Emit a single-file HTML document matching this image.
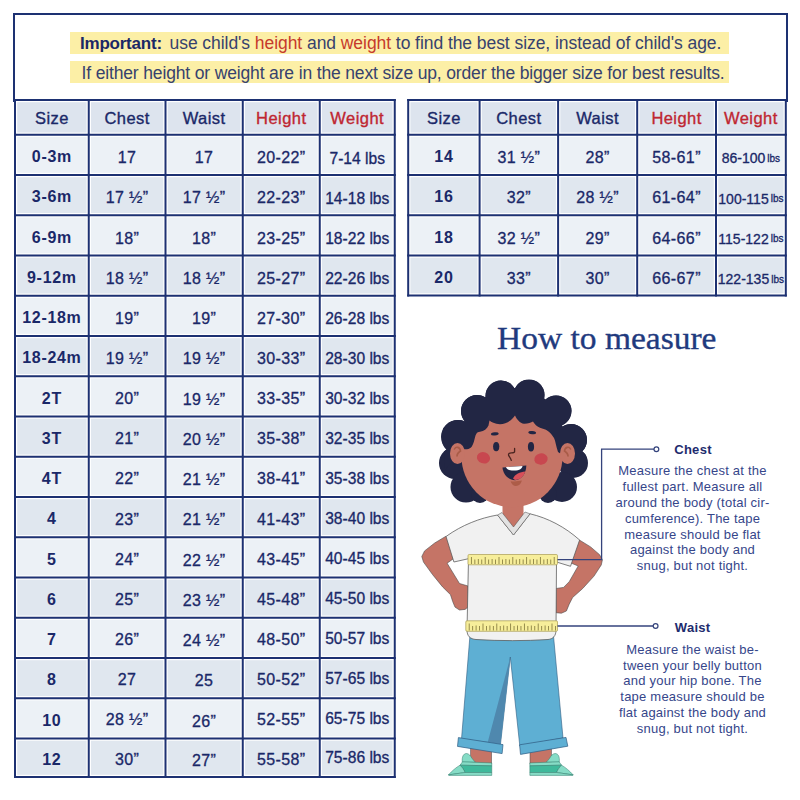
<!DOCTYPE html>
<html><head><meta charset="utf-8"><style>
html,body{margin:0;padding:0;}
body{width:800px;height:800px;position:relative;overflow:hidden;background:#fff;font-family:"Liberation Sans",sans-serif;}
.abs{position:absolute;}
.c{position:absolute;display:flex;align-items:center;justify-content:center;box-sizing:border-box;padding-top:3px;white-space:nowrap;color:#1a2868;}
.h{font-size:16.5px;letter-spacing:0.45px;-webkit-text-stroke:0.35px #1a2868;padding-top:2px;}
.h.red{color:#bf2631;-webkit-text-stroke:0.35px #bf2631;}
.s{font-size:16px;font-weight:bold;letter-spacing:0.7px;padding-top:5px;}
.v{font-size:16px;letter-spacing:0.4px;-webkit-text-stroke:0.3px #1a2868;padding-top:5.6px;}
.w{font-size:15.6px;letter-spacing:0px;-webkit-text-stroke:0.3px #1a2868;}
.wn{font-size:14px;letter-spacing:0px;}
.lbs{font-size:10px;margin-left:2px;letter-spacing:0;}
#hbox{position:absolute;left:13px;top:13px;width:770.5px;height:86.5px;border:2px solid #1d3172;border-bottom:none;box-sizing:content-box;}
.hl{position:absolute;background:#fcefa6;}
.ln{position:absolute;white-space:nowrap;font-size:17px;color:#37426e;}
.imp{font-weight:bold;color:#1a2866;letter-spacing:-0.22px;font-size:17px;}
.rd{color:#c63a2c;}
#htm{position:absolute;left:496.6px;top:319px;font-family:"Liberation Serif",serif;font-size:31.5px;color:#1f3a7e;white-space:nowrap;line-height:40px;transform:scaleX(1.063);transform-origin:0 0;-webkit-text-stroke:0.35px #1f3a7e;}
.ttl{position:absolute;font-weight:bold;font-size:13px;color:#1e2c6e;white-space:nowrap;}
.pl{position:absolute;left:592.5px;width:200px;text-align:center;font-size:13px;line-height:16px;color:#36468a;letter-spacing:0.22px;white-space:nowrap;}
.ttl{line-height:16px;letter-spacing:0.3px;}
</style></head><body>
<div id="hbox"></div>
<div class="hl" style="left:70px;top:32px;width:659px;height:21.5px"></div>
<div class="hl" style="left:69.5px;top:60.5px;width:659.5px;height:22.5px"></div>
<div class="ln" style="left:80px;top:33px;line-height:20px;font-size:17.5px"><span class="imp">Important:</span> <span style="letter-spacing:-0.06px;padding-left:2.8px">use child's <span class="rd">height</span> and <span class="rd">weight</span> to find the best size, instead of child's age.</span></div>
<div class="ln" style="left:81.5px;top:62.5px;line-height:20px;font-size:17.5px;letter-spacing:-0.15px">If either height or weight are in the next size up, order the bigger size for best results.</div>
<svg class="abs" style="left:0;top:0" width="800" height="800" viewBox="0 0 800 800">
<rect x="17.20" y="102.20" width="69.35" height="30.35" fill="#dde4ee"/><rect x="90.95" y="102.20" width="72.35" height="30.35" fill="#dde4ee"/><rect x="167.70" y="102.20" width="72.85" height="30.35" fill="#dde4ee"/><rect x="244.95" y="102.20" width="72.60" height="30.35" fill="#dde4ee"/><rect x="321.95" y="102.20" width="70.60" height="30.35" fill="#dde4ee"/><rect x="17.20" y="136.95" width="69.35" height="35.85" fill="#ecf1f6"/><rect x="90.95" y="136.95" width="72.35" height="35.85" fill="#ecf1f6"/><rect x="167.70" y="136.95" width="72.85" height="35.85" fill="#ecf1f6"/><rect x="244.95" y="136.95" width="72.60" height="35.85" fill="#ecf1f6"/><rect x="321.95" y="136.95" width="70.60" height="35.85" fill="#ecf1f6"/><rect x="17.20" y="177.20" width="69.35" height="35.85" fill="#e0e7ef"/><rect x="90.95" y="177.20" width="72.35" height="35.85" fill="#e0e7ef"/><rect x="167.70" y="177.20" width="72.85" height="35.85" fill="#e0e7ef"/><rect x="244.95" y="177.20" width="72.60" height="35.85" fill="#e0e7ef"/><rect x="321.95" y="177.20" width="70.60" height="35.85" fill="#e0e7ef"/><rect x="17.20" y="217.45" width="69.35" height="35.85" fill="#ecf1f6"/><rect x="90.95" y="217.45" width="72.35" height="35.85" fill="#ecf1f6"/><rect x="167.70" y="217.45" width="72.85" height="35.85" fill="#ecf1f6"/><rect x="244.95" y="217.45" width="72.60" height="35.85" fill="#ecf1f6"/><rect x="321.95" y="217.45" width="70.60" height="35.85" fill="#ecf1f6"/><rect x="17.20" y="257.70" width="69.35" height="35.85" fill="#e0e7ef"/><rect x="90.95" y="257.70" width="72.35" height="35.85" fill="#e0e7ef"/><rect x="167.70" y="257.70" width="72.85" height="35.85" fill="#e0e7ef"/><rect x="244.95" y="257.70" width="72.60" height="35.85" fill="#e0e7ef"/><rect x="321.95" y="257.70" width="70.60" height="35.85" fill="#e0e7ef"/><rect x="17.20" y="297.95" width="69.35" height="35.85" fill="#ecf1f6"/><rect x="90.95" y="297.95" width="72.35" height="35.85" fill="#ecf1f6"/><rect x="167.70" y="297.95" width="72.85" height="35.85" fill="#ecf1f6"/><rect x="244.95" y="297.95" width="72.60" height="35.85" fill="#ecf1f6"/><rect x="321.95" y="297.95" width="70.60" height="35.85" fill="#ecf1f6"/><rect x="17.20" y="338.20" width="69.35" height="35.85" fill="#e0e7ef"/><rect x="90.95" y="338.20" width="72.35" height="35.85" fill="#e0e7ef"/><rect x="167.70" y="338.20" width="72.85" height="35.85" fill="#e0e7ef"/><rect x="244.95" y="338.20" width="72.60" height="35.85" fill="#e0e7ef"/><rect x="321.95" y="338.20" width="70.60" height="35.85" fill="#e0e7ef"/><rect x="17.20" y="378.45" width="69.35" height="35.85" fill="#ecf1f6"/><rect x="90.95" y="378.45" width="72.35" height="35.85" fill="#ecf1f6"/><rect x="167.70" y="378.45" width="72.85" height="35.85" fill="#ecf1f6"/><rect x="244.95" y="378.45" width="72.60" height="35.85" fill="#ecf1f6"/><rect x="321.95" y="378.45" width="70.60" height="35.85" fill="#ecf1f6"/><rect x="17.20" y="418.70" width="69.35" height="35.85" fill="#e0e7ef"/><rect x="90.95" y="418.70" width="72.35" height="35.85" fill="#e0e7ef"/><rect x="167.70" y="418.70" width="72.85" height="35.85" fill="#e0e7ef"/><rect x="244.95" y="418.70" width="72.60" height="35.85" fill="#e0e7ef"/><rect x="321.95" y="418.70" width="70.60" height="35.85" fill="#e0e7ef"/><rect x="17.20" y="458.95" width="69.35" height="35.85" fill="#ecf1f6"/><rect x="90.95" y="458.95" width="72.35" height="35.85" fill="#ecf1f6"/><rect x="167.70" y="458.95" width="72.85" height="35.85" fill="#ecf1f6"/><rect x="244.95" y="458.95" width="72.60" height="35.85" fill="#ecf1f6"/><rect x="321.95" y="458.95" width="70.60" height="35.85" fill="#ecf1f6"/><rect x="17.20" y="499.20" width="69.35" height="35.85" fill="#e0e7ef"/><rect x="90.95" y="499.20" width="72.35" height="35.85" fill="#e0e7ef"/><rect x="167.70" y="499.20" width="72.85" height="35.85" fill="#e0e7ef"/><rect x="244.95" y="499.20" width="72.60" height="35.85" fill="#e0e7ef"/><rect x="321.95" y="499.20" width="70.60" height="35.85" fill="#e0e7ef"/><rect x="17.20" y="539.45" width="69.35" height="35.85" fill="#ecf1f6"/><rect x="90.95" y="539.45" width="72.35" height="35.85" fill="#ecf1f6"/><rect x="167.70" y="539.45" width="72.85" height="35.85" fill="#ecf1f6"/><rect x="244.95" y="539.45" width="72.60" height="35.85" fill="#ecf1f6"/><rect x="321.95" y="539.45" width="70.60" height="35.85" fill="#ecf1f6"/><rect x="17.20" y="579.70" width="69.35" height="35.85" fill="#e0e7ef"/><rect x="90.95" y="579.70" width="72.35" height="35.85" fill="#e0e7ef"/><rect x="167.70" y="579.70" width="72.85" height="35.85" fill="#e0e7ef"/><rect x="244.95" y="579.70" width="72.60" height="35.85" fill="#e0e7ef"/><rect x="321.95" y="579.70" width="70.60" height="35.85" fill="#e0e7ef"/><rect x="17.20" y="619.95" width="69.35" height="35.85" fill="#ecf1f6"/><rect x="90.95" y="619.95" width="72.35" height="35.85" fill="#ecf1f6"/><rect x="167.70" y="619.95" width="72.85" height="35.85" fill="#ecf1f6"/><rect x="244.95" y="619.95" width="72.60" height="35.85" fill="#ecf1f6"/><rect x="321.95" y="619.95" width="70.60" height="35.85" fill="#ecf1f6"/><rect x="17.20" y="660.20" width="69.35" height="35.85" fill="#e0e7ef"/><rect x="90.95" y="660.20" width="72.35" height="35.85" fill="#e0e7ef"/><rect x="167.70" y="660.20" width="72.85" height="35.85" fill="#e0e7ef"/><rect x="244.95" y="660.20" width="72.60" height="35.85" fill="#e0e7ef"/><rect x="321.95" y="660.20" width="70.60" height="35.85" fill="#e0e7ef"/><rect x="17.20" y="700.45" width="69.35" height="35.85" fill="#ecf1f6"/><rect x="90.95" y="700.45" width="72.35" height="35.85" fill="#ecf1f6"/><rect x="167.70" y="700.45" width="72.85" height="35.85" fill="#ecf1f6"/><rect x="244.95" y="700.45" width="72.60" height="35.85" fill="#ecf1f6"/><rect x="321.95" y="700.45" width="70.60" height="35.85" fill="#ecf1f6"/><rect x="17.20" y="740.70" width="69.35" height="34.10" fill="#e0e7ef"/><rect x="90.95" y="740.70" width="72.35" height="34.10" fill="#e0e7ef"/><rect x="167.70" y="740.70" width="72.85" height="34.10" fill="#e0e7ef"/><rect x="244.95" y="740.70" width="72.60" height="34.10" fill="#e0e7ef"/><rect x="321.95" y="740.70" width="70.60" height="34.10" fill="#e0e7ef"/><rect x="14.00" y="99.00" width="2" height="679.00" fill="#1d3172"/><rect x="87.75" y="99.00" width="2" height="679.00" fill="#1d3172"/><rect x="164.50" y="99.00" width="2" height="679.00" fill="#1d3172"/><rect x="241.75" y="99.00" width="2" height="679.00" fill="#1d3172"/><rect x="318.75" y="99.00" width="2" height="679.00" fill="#1d3172"/><rect x="393.75" y="99.00" width="2" height="679.00" fill="#1d3172"/><rect x="14.00" y="99.00" width="381.75" height="2" fill="#1d3172"/><rect x="14.00" y="133.75" width="381.75" height="2" fill="#1d3172"/><rect x="14.00" y="174.00" width="381.75" height="2" fill="#1d3172"/><rect x="14.00" y="214.25" width="381.75" height="2" fill="#1d3172"/><rect x="14.00" y="254.50" width="381.75" height="2" fill="#1d3172"/><rect x="14.00" y="294.75" width="381.75" height="2" fill="#1d3172"/><rect x="14.00" y="335.00" width="381.75" height="2" fill="#1d3172"/><rect x="14.00" y="375.25" width="381.75" height="2" fill="#1d3172"/><rect x="14.00" y="415.50" width="381.75" height="2" fill="#1d3172"/><rect x="14.00" y="455.75" width="381.75" height="2" fill="#1d3172"/><rect x="14.00" y="496.00" width="381.75" height="2" fill="#1d3172"/><rect x="14.00" y="536.25" width="381.75" height="2" fill="#1d3172"/><rect x="14.00" y="576.50" width="381.75" height="2" fill="#1d3172"/><rect x="14.00" y="616.75" width="381.75" height="2" fill="#1d3172"/><rect x="14.00" y="657.00" width="381.75" height="2" fill="#1d3172"/><rect x="14.00" y="697.25" width="381.75" height="2" fill="#1d3172"/><rect x="14.00" y="737.50" width="381.75" height="2" fill="#1d3172"/><rect x="14.00" y="776.00" width="381.75" height="2" fill="#1d3172"/><rect x="410.40" y="102.20" width="67.00" height="30.35" fill="#dde4ee"/><rect x="481.80" y="102.20" width="74.10" height="30.35" fill="#dde4ee"/><rect x="560.30" y="102.20" width="74.70" height="30.35" fill="#dde4ee"/><rect x="639.40" y="102.20" width="74.40" height="30.35" fill="#dde4ee"/><rect x="718.20" y="102.20" width="65.40" height="30.35" fill="#dde4ee"/><rect x="410.40" y="136.95" width="67.00" height="35.85" fill="#ecf1f6"/><rect x="481.80" y="136.95" width="74.10" height="35.85" fill="#ecf1f6"/><rect x="560.30" y="136.95" width="74.70" height="35.85" fill="#ecf1f6"/><rect x="639.40" y="136.95" width="74.40" height="35.85" fill="#ecf1f6"/><rect x="718.20" y="136.95" width="65.40" height="35.85" fill="#ecf1f6"/><rect x="410.40" y="177.20" width="67.00" height="35.85" fill="#e0e7ef"/><rect x="481.80" y="177.20" width="74.10" height="35.85" fill="#e0e7ef"/><rect x="560.30" y="177.20" width="74.70" height="35.85" fill="#e0e7ef"/><rect x="639.40" y="177.20" width="74.40" height="35.85" fill="#e0e7ef"/><rect x="718.20" y="177.20" width="65.40" height="35.85" fill="#e0e7ef"/><rect x="410.40" y="217.45" width="67.00" height="35.85" fill="#ecf1f6"/><rect x="481.80" y="217.45" width="74.10" height="35.85" fill="#ecf1f6"/><rect x="560.30" y="217.45" width="74.70" height="35.85" fill="#ecf1f6"/><rect x="639.40" y="217.45" width="74.40" height="35.85" fill="#ecf1f6"/><rect x="718.20" y="217.45" width="65.40" height="35.85" fill="#ecf1f6"/><rect x="410.40" y="257.70" width="67.00" height="35.60" fill="#e0e7ef"/><rect x="481.80" y="257.70" width="74.10" height="35.60" fill="#e0e7ef"/><rect x="560.30" y="257.70" width="74.70" height="35.60" fill="#e0e7ef"/><rect x="639.40" y="257.70" width="74.40" height="35.60" fill="#e0e7ef"/><rect x="718.20" y="257.70" width="65.40" height="35.60" fill="#e0e7ef"/><rect x="407.20" y="99.00" width="2" height="197.50" fill="#1d3172"/><rect x="478.60" y="99.00" width="2" height="197.50" fill="#1d3172"/><rect x="557.10" y="99.00" width="2" height="197.50" fill="#1d3172"/><rect x="636.20" y="99.00" width="2" height="197.50" fill="#1d3172"/><rect x="715.00" y="99.00" width="2" height="197.50" fill="#1d3172"/><rect x="784.80" y="99.00" width="2" height="197.50" fill="#1d3172"/><rect x="407.20" y="99.00" width="379.60" height="2" fill="#1d3172"/><rect x="407.20" y="133.75" width="379.60" height="2" fill="#1d3172"/><rect x="407.20" y="174.00" width="379.60" height="2" fill="#1d3172"/><rect x="407.20" y="214.25" width="379.60" height="2" fill="#1d3172"/><rect x="407.20" y="254.50" width="379.60" height="2" fill="#1d3172"/><rect x="407.20" y="294.50" width="379.60" height="2" fill="#1d3172"/>
</svg>
<div class="c h" style="left:15.00px;top:100.00px;width:73.75px;height:34.75px">Size</div><div class="c h" style="left:88.75px;top:100.00px;width:76.75px;height:34.75px">Chest</div><div class="c h" style="left:165.50px;top:100.00px;width:77.25px;height:34.75px">Waist</div><div class="c h red" style="left:242.75px;top:100.00px;width:77.00px;height:34.75px">Height</div><div class="c h red" style="left:319.75px;top:100.00px;width:75.00px;height:34.75px">Weight</div><div class="c s" style="left:15.00px;top:134.75px;width:73.75px;height:40.25px;padding-top:4.40px">0-3m</div><div class="c v" style="left:88.75px;top:134.75px;width:76.75px;height:40.25px;padding-top:6.60px">17</div><div class="c v" style="left:165.50px;top:134.75px;width:77.25px;height:40.25px;padding-top:6.40px">17</div><div class="c v" style="left:242.75px;top:134.75px;width:77.00px;height:40.25px;padding-top:6.60px">20-22”</div><div class="c w" style="left:319.75px;top:134.75px;width:75.00px;height:40.25px;padding-top:7.80px">7-14 lbs</div><div class="c s" style="left:15.00px;top:175.00px;width:73.75px;height:40.25px;padding-top:4.40px">3-6m</div><div class="c v" style="left:88.75px;top:175.00px;width:76.75px;height:40.25px;padding-top:6.43px">17 ½”</div><div class="c v" style="left:165.50px;top:175.00px;width:77.25px;height:40.25px;padding-top:6.40px">17 ½”</div><div class="c v" style="left:242.75px;top:175.00px;width:77.00px;height:40.25px;padding-top:6.43px">22-23”</div><div class="c w" style="left:319.75px;top:175.00px;width:75.00px;height:40.25px;padding-top:7.32px">14-18 lbs</div><div class="c s" style="left:15.00px;top:215.25px;width:73.75px;height:40.25px;padding-top:4.40px">6-9m</div><div class="c v" style="left:88.75px;top:215.25px;width:76.75px;height:40.25px;padding-top:6.26px">18”</div><div class="c v" style="left:165.50px;top:215.25px;width:77.25px;height:40.25px;padding-top:6.40px">18”</div><div class="c v" style="left:242.75px;top:215.25px;width:77.00px;height:40.25px;padding-top:6.26px">23-25”</div><div class="c w" style="left:319.75px;top:215.25px;width:75.00px;height:40.25px;padding-top:6.84px">18-22 lbs</div><div class="c s" style="left:15.00px;top:255.50px;width:73.75px;height:40.25px;padding-top:4.40px">9-12m</div><div class="c v" style="left:88.75px;top:255.50px;width:76.75px;height:40.25px;padding-top:6.09px">18 ½”</div><div class="c v" style="left:165.50px;top:255.50px;width:77.25px;height:40.25px;padding-top:6.40px">18 ½”</div><div class="c v" style="left:242.75px;top:255.50px;width:77.00px;height:40.25px;padding-top:6.09px">25-27”</div><div class="c w" style="left:319.75px;top:255.50px;width:75.00px;height:40.25px;padding-top:6.36px">22-26 lbs</div><div class="c s" style="left:15.00px;top:295.75px;width:73.75px;height:40.25px;padding-top:4.40px">12-18m</div><div class="c v" style="left:88.75px;top:295.75px;width:76.75px;height:40.25px;padding-top:5.92px">19”</div><div class="c v" style="left:165.50px;top:295.75px;width:77.25px;height:40.25px;padding-top:6.40px">19”</div><div class="c v" style="left:242.75px;top:295.75px;width:77.00px;height:40.25px;padding-top:5.92px">27-30”</div><div class="c w" style="left:319.75px;top:295.75px;width:75.00px;height:40.25px;padding-top:5.88px">26-28 lbs</div><div class="c s" style="left:15.00px;top:336.00px;width:73.75px;height:40.25px;padding-top:4.40px">18-24m</div><div class="c v" style="left:88.75px;top:336.00px;width:76.75px;height:40.25px;padding-top:5.75px">19 ½”</div><div class="c v" style="left:165.50px;top:336.00px;width:77.25px;height:40.25px;padding-top:6.40px">19 ½”</div><div class="c v" style="left:242.75px;top:336.00px;width:77.00px;height:40.25px;padding-top:5.75px">30-33”</div><div class="c w" style="left:319.75px;top:336.00px;width:75.00px;height:40.25px;padding-top:5.40px">28-30 lbs</div><div class="c s" style="left:15.00px;top:376.25px;width:73.75px;height:40.25px;padding-top:4.40px">2T</div><div class="c v" style="left:88.75px;top:376.25px;width:76.75px;height:40.25px;padding-top:5.58px">20”</div><div class="c v" style="left:165.50px;top:376.25px;width:77.25px;height:40.25px;padding-top:6.40px">19 ½”</div><div class="c v" style="left:242.75px;top:376.25px;width:77.00px;height:40.25px;padding-top:5.58px">33-35”</div><div class="c w" style="left:319.75px;top:376.25px;width:75.00px;height:40.25px;padding-top:4.92px">30-32 lbs</div><div class="c s" style="left:15.00px;top:416.50px;width:73.75px;height:40.25px;padding-top:4.40px">3T</div><div class="c v" style="left:88.75px;top:416.50px;width:76.75px;height:40.25px;padding-top:5.41px">21”</div><div class="c v" style="left:165.50px;top:416.50px;width:77.25px;height:40.25px;padding-top:6.40px">20 ½”</div><div class="c v" style="left:242.75px;top:416.50px;width:77.00px;height:40.25px;padding-top:5.41px">35-38”</div><div class="c w" style="left:319.75px;top:416.50px;width:75.00px;height:40.25px;padding-top:4.44px">32-35 lbs</div><div class="c s" style="left:15.00px;top:456.75px;width:73.75px;height:40.25px;padding-top:4.40px">4T</div><div class="c v" style="left:88.75px;top:456.75px;width:76.75px;height:40.25px;padding-top:5.24px">22”</div><div class="c v" style="left:165.50px;top:456.75px;width:77.25px;height:40.25px;padding-top:6.40px">21 ½”</div><div class="c v" style="left:242.75px;top:456.75px;width:77.00px;height:40.25px;padding-top:5.24px">38-41”</div><div class="c w" style="left:319.75px;top:456.75px;width:75.00px;height:40.25px;padding-top:3.96px">35-38 lbs</div><div class="c s" style="left:15.00px;top:497.00px;width:73.75px;height:40.25px;padding-top:4.40px">4</div><div class="c v" style="left:88.75px;top:497.00px;width:76.75px;height:40.25px;padding-top:5.07px">23”</div><div class="c v" style="left:165.50px;top:497.00px;width:77.25px;height:40.25px;padding-top:6.40px">21 ½”</div><div class="c v" style="left:242.75px;top:497.00px;width:77.00px;height:40.25px;padding-top:5.07px">41-43”</div><div class="c w" style="left:319.75px;top:497.00px;width:75.00px;height:40.25px;padding-top:3.48px">38-40 lbs</div><div class="c s" style="left:15.00px;top:537.25px;width:73.75px;height:40.25px;padding-top:4.40px">5</div><div class="c v" style="left:88.75px;top:537.25px;width:76.75px;height:40.25px;padding-top:4.90px">24”</div><div class="c v" style="left:165.50px;top:537.25px;width:77.25px;height:40.25px;padding-top:6.40px">22 ½”</div><div class="c v" style="left:242.75px;top:537.25px;width:77.00px;height:40.25px;padding-top:4.90px">43-45”</div><div class="c w" style="left:319.75px;top:537.25px;width:75.00px;height:40.25px;padding-top:3.00px">40-45 lbs</div><div class="c s" style="left:15.00px;top:577.50px;width:73.75px;height:40.25px;padding-top:4.40px">6</div><div class="c v" style="left:88.75px;top:577.50px;width:76.75px;height:40.25px;padding-top:4.73px">25”</div><div class="c v" style="left:165.50px;top:577.50px;width:77.25px;height:40.25px;padding-top:6.40px">23 ½”</div><div class="c v" style="left:242.75px;top:577.50px;width:77.00px;height:40.25px;padding-top:4.73px">45-48”</div><div class="c w" style="left:319.75px;top:577.50px;width:75.00px;height:40.25px;padding-top:2.52px">45-50 lbs</div><div class="c s" style="left:15.00px;top:617.75px;width:73.75px;height:40.25px;padding-top:4.40px">7</div><div class="c v" style="left:88.75px;top:617.75px;width:76.75px;height:40.25px;padding-top:4.56px">26”</div><div class="c v" style="left:165.50px;top:617.75px;width:77.25px;height:40.25px;padding-top:6.40px">24 ½”</div><div class="c v" style="left:242.75px;top:617.75px;width:77.00px;height:40.25px;padding-top:4.56px">48-50”</div><div class="c w" style="left:319.75px;top:617.75px;width:75.00px;height:40.25px;padding-top:2.04px">50-57 lbs</div><div class="c s" style="left:15.00px;top:658.00px;width:73.75px;height:40.25px;padding-top:4.40px">8</div><div class="c v" style="left:88.75px;top:658.00px;width:76.75px;height:40.25px;padding-top:4.39px">27</div><div class="c v" style="left:165.50px;top:658.00px;width:77.25px;height:40.25px;padding-top:6.40px">25</div><div class="c v" style="left:242.75px;top:658.00px;width:77.00px;height:40.25px;padding-top:4.39px">50-52”</div><div class="c w" style="left:319.75px;top:658.00px;width:75.00px;height:40.25px;padding-top:1.56px">57-65 lbs</div><div class="c s" style="left:15.00px;top:698.25px;width:73.75px;height:40.25px;padding-top:4.40px">10</div><div class="c v" style="left:88.75px;top:698.25px;width:76.75px;height:40.25px;padding-top:4.22px">28 ½”</div><div class="c v" style="left:165.50px;top:698.25px;width:77.25px;height:40.25px;padding-top:6.40px">26”</div><div class="c v" style="left:242.75px;top:698.25px;width:77.00px;height:40.25px;padding-top:4.22px">52-55”</div><div class="c w" style="left:319.75px;top:698.25px;width:75.00px;height:40.25px;padding-top:1.08px">65-75 lbs</div><div class="c s" style="left:15.00px;top:738.50px;width:73.75px;height:38.50px;padding-top:4.40px">12</div><div class="c v" style="left:88.75px;top:738.50px;width:76.75px;height:38.50px;padding-top:4.05px">30”</div><div class="c v" style="left:165.50px;top:738.50px;width:77.25px;height:38.50px;padding-top:6.40px">27”</div><div class="c v" style="left:242.75px;top:738.50px;width:77.00px;height:38.50px;padding-top:4.05px">55-58”</div><div class="c w" style="left:319.75px;top:738.50px;width:75.00px;height:38.50px;padding-top:0.60px">75-86 lbs</div><div class="c h" style="left:408.20px;top:100.00px;width:71.40px;height:34.75px">Size</div><div class="c h" style="left:479.60px;top:100.00px;width:78.50px;height:34.75px">Chest</div><div class="c h" style="left:558.10px;top:100.00px;width:79.10px;height:34.75px">Waist</div><div class="c h red" style="left:637.20px;top:100.00px;width:78.80px;height:34.75px">Height</div><div class="c h red" style="left:716.00px;top:100.00px;width:69.80px;height:34.75px">Weight</div><div class="c s" style="left:408.20px;top:134.75px;width:71.40px;height:40.25px;padding-top:4.40px">14</div><div class="c v" style="left:479.60px;top:134.75px;width:78.50px;height:40.25px;padding-top:6.60px">31 ½”</div><div class="c v" style="left:558.10px;top:134.75px;width:79.10px;height:40.25px;padding-top:6.40px">28”</div><div class="c v" style="left:637.20px;top:134.75px;width:78.80px;height:40.25px;padding-top:6.60px">58-61”</div><div class="c v" style="left:716.00px;top:134.75px;width:69.80px;height:40.25px;padding-top:7.00px"><span class="wn">86-100</span><span class="lbs">lbs</span></div><div class="c s" style="left:408.20px;top:175.00px;width:71.40px;height:40.25px;padding-top:4.40px">16</div><div class="c v" style="left:479.60px;top:175.00px;width:78.50px;height:40.25px;padding-top:6.43px">32”</div><div class="c v" style="left:558.10px;top:175.00px;width:79.10px;height:40.25px;padding-top:6.40px">28 ½”</div><div class="c v" style="left:637.20px;top:175.00px;width:78.80px;height:40.25px;padding-top:6.43px">61-64”</div><div class="c v" style="left:716.00px;top:175.00px;width:69.80px;height:40.25px;padding-top:7.00px"><span class="wn">100-115</span><span class="lbs">lbs</span></div><div class="c s" style="left:408.20px;top:215.25px;width:71.40px;height:40.25px;padding-top:4.40px">18</div><div class="c v" style="left:479.60px;top:215.25px;width:78.50px;height:40.25px;padding-top:6.26px">32 ½”</div><div class="c v" style="left:558.10px;top:215.25px;width:79.10px;height:40.25px;padding-top:6.40px">29”</div><div class="c v" style="left:637.20px;top:215.25px;width:78.80px;height:40.25px;padding-top:6.26px">64-66”</div><div class="c v" style="left:716.00px;top:215.25px;width:69.80px;height:40.25px;padding-top:7.00px"><span class="wn">115-122</span><span class="lbs">lbs</span></div><div class="c s" style="left:408.20px;top:255.50px;width:71.40px;height:40.00px;padding-top:4.40px">20</div><div class="c v" style="left:479.60px;top:255.50px;width:78.50px;height:40.00px;padding-top:6.09px">33”</div><div class="c v" style="left:558.10px;top:255.50px;width:79.10px;height:40.00px;padding-top:6.40px">30”</div><div class="c v" style="left:637.20px;top:255.50px;width:78.80px;height:40.00px;padding-top:6.09px">66-67”</div><div class="c v" style="left:716.00px;top:255.50px;width:69.80px;height:40.00px;padding-top:7.00px"><span class="wn">122-135</span><span class="lbs">lbs</span></div>
<div id="htm">How to measure</div>
<svg class="abs" style="left:0;top:0" width="800" height="800" viewBox="0 0 800 800">
<rect x="470.6" y="748" width="21" height="16" fill="#c57466" stroke="#4a4a4a" stroke-width="0.5"/>
<rect x="530" y="749" width="21.5" height="15" fill="#c57466" stroke="#4a4a4a" stroke-width="0.5"/>
<g><path d="M462.3,762.2 C461.8,757 463.2,753.6 466.4,753.5 C469,753.5 470.6,756 472,758.3 C473,759.8 474.2,761 475.5,762.3 Z" fill="#86dcc6" stroke="#2f7a6a" stroke-width="0.5" stroke-linejoin="round"/><path d="M462.5,761.8 L491.75,762.9 L491.75,765.8 L460,765.2 Z" fill="#86dcc6" stroke="#2f7a6a" stroke-width="0.5" stroke-linejoin="round"/><path d="M460,765.2 L491.75,765.8 L491.75,772.5 L465,772.5 C464,770 462.5,767.5 460,765.2 Z" fill="#3fb99b" stroke="#2f7a6a" stroke-width="0.5" stroke-linejoin="round"/><path d="M448.4,774.9 C452,771 456,767.5 460,765.2 C462.5,767.5 464,770 465,772.5 Z" fill="#86dcc6" stroke="#2f7a6a" stroke-width="0.5" stroke-linejoin="round"/><path d="M448.4,774.9 L465,772.5 L491.75,772.5 L491.75,775.4 L449,775.4 Z" fill="#86dcc6" stroke="#2f7a6a" stroke-width="0.5" stroke-linejoin="round"/></g>
<g transform="translate(1021.6,0) scale(-1,1)"><path d="M462.3,762.2 C461.8,757 463.2,753.6 466.4,753.5 C469,753.5 470.6,756 472,758.3 C473,759.8 474.2,761 475.5,762.3 Z" fill="#86dcc6" stroke="#2f7a6a" stroke-width="0.5" stroke-linejoin="round"/><path d="M462.5,761.8 L491.75,762.9 L491.75,765.8 L460,765.2 Z" fill="#86dcc6" stroke="#2f7a6a" stroke-width="0.5" stroke-linejoin="round"/><path d="M460,765.2 L491.75,765.8 L491.75,772.5 L465,772.5 C464,770 462.5,767.5 460,765.2 Z" fill="#3fb99b" stroke="#2f7a6a" stroke-width="0.5" stroke-linejoin="round"/><path d="M448.4,774.9 C452,771 456,767.5 460,765.2 C462.5,767.5 464,770 465,772.5 Z" fill="#86dcc6" stroke="#2f7a6a" stroke-width="0.5" stroke-linejoin="round"/><path d="M448.4,774.9 L465,772.5 L491.75,772.5 L491.75,775.4 L449,775.4 Z" fill="#86dcc6" stroke="#2f7a6a" stroke-width="0.5" stroke-linejoin="round"/></g>
<path d="M470,635 L553.5,636 L563,738 L519.8,746 L510.3,657 L500.5,744 L461.5,739 Z" fill="#5eafd3" stroke="#2f5c82" stroke-width="0.6" stroke-linejoin="round"/>
<path d="M510.3,657 L487.5,743 L500.5,744 Z" fill="#4f88ae"/>
<path d="M458.4,737.6 L503,744.6 L502.1,753.6 L457.5,746.4 Z" fill="#5eafd3" stroke="#2f5c82" stroke-width="0.7" stroke-linejoin="round"/>
<path d="M519.6,744.8 L566,737.4 L567.8,746.2 L520.5,754.4 Z" fill="#5eafd3" stroke="#2f5c82" stroke-width="0.7" stroke-linejoin="round"/>
<polygon points="446.0,536.2 434.7,543.0 424.6,550.9 421.8,556.5 423.5,562.1 432.5,574.5 442.6,586.9 450.5,594.7 452.7,601.5 455.0,607.1 459.5,610.0 465.1,609.4 468.0,607.0 468.0,586.0 459.5,583.5 447.1,563.2 453.0,559.0 455.0,545.0" fill="#c57466" stroke="#4a4a4a" stroke-width="0.6" stroke-linejoin="round"/>
<polygon points="579.4,540.0 590.6,546.9 599.6,554.7 602.4,559.8 601.3,564.9 594.0,576.1 582.7,588.5 572.6,597.5 569.2,604.2 566.4,611.0 561.4,613.2 556.0,612.7 556.0,588.5 563.6,587.4 569.2,581.7 578.2,566.0 571.0,563.0 570.0,545.0" fill="#c57466" stroke="#4a4a4a" stroke-width="0.6" stroke-linejoin="round"/>
<rect x="502.5" y="498" width="21" height="30" fill="#c57466"/>
<path d="M502.5,503 Q513,510 523.5,503 V498 H502.5 Z" fill="#a95c48" opacity="0.5"/>
<path d="M497.5,515 C480,518 462,525 446,536.5 L453.9,562 L468.5,558.7 L467,630 C467,636 470,639 476,639.5 C500,641 525,641 548,639.5 C553,639 556,636 556,630 L556.5,562 L570.5,566.3 L579.6,540 C565,527 548,518 530,513.8 L513.5,535 Z" fill="#f1f1f1" stroke="#555" stroke-width="0.75" stroke-linejoin="round"/>
<path d="M497.5,515 L513.5,535 L530,513.8 L525,512 L513.5,527 L502,512.5 Z" fill="#e2e2e2" stroke="#4a4a4a" stroke-width="0.5" stroke-linejoin="round"/>
<rect x="468" y="554.5" width="89.5" height="10.299999999999955" rx="1.2" fill="#f7ee9a" stroke="#a99c52" stroke-width="0.7"/><rect x="470.95" y="557.00" width="0.9" height="7" fill="#8c8244"/><rect x="474.40" y="559.50" width="0.9" height="4.5" fill="#8c8244"/><rect x="477.85" y="559.00" width="0.9" height="5" fill="#8c8244"/><rect x="481.30" y="559.50" width="0.9" height="4.5" fill="#8c8244"/><rect x="484.75" y="557.00" width="0.9" height="7" fill="#8c8244"/><rect x="488.20" y="559.50" width="0.9" height="4.5" fill="#8c8244"/><rect x="491.65" y="559.00" width="0.9" height="5" fill="#8c8244"/><rect x="495.10" y="559.50" width="0.9" height="4.5" fill="#8c8244"/><rect x="498.55" y="557.00" width="0.9" height="7" fill="#8c8244"/><rect x="502.00" y="559.50" width="0.9" height="4.5" fill="#8c8244"/><rect x="505.45" y="559.00" width="0.9" height="5" fill="#8c8244"/><rect x="508.90" y="559.50" width="0.9" height="4.5" fill="#8c8244"/><rect x="512.35" y="557.00" width="0.9" height="7" fill="#8c8244"/><rect x="515.80" y="559.50" width="0.9" height="4.5" fill="#8c8244"/><rect x="519.25" y="559.00" width="0.9" height="5" fill="#8c8244"/><rect x="522.70" y="559.50" width="0.9" height="4.5" fill="#8c8244"/><rect x="526.15" y="557.00" width="0.9" height="7" fill="#8c8244"/><rect x="529.60" y="559.50" width="0.9" height="4.5" fill="#8c8244"/><rect x="533.05" y="559.00" width="0.9" height="5" fill="#8c8244"/><rect x="536.50" y="559.50" width="0.9" height="4.5" fill="#8c8244"/><rect x="539.95" y="557.00" width="0.9" height="7" fill="#8c8244"/><rect x="543.40" y="559.50" width="0.9" height="4.5" fill="#8c8244"/><rect x="546.85" y="559.00" width="0.9" height="5" fill="#8c8244"/><rect x="550.30" y="559.50" width="0.9" height="4.5" fill="#8c8244"/><rect x="553.75" y="557.00" width="0.9" height="7" fill="#8c8244"/>
<rect x="465.8" y="620.8" width="91.69999999999999" height="10.5" rx="1.2" fill="#f7ee9a" stroke="#a99c52" stroke-width="0.7"/><rect x="468.75" y="623.50" width="0.9" height="7" fill="#8c8244"/><rect x="472.20" y="626.00" width="0.9" height="4.5" fill="#8c8244"/><rect x="475.65" y="625.50" width="0.9" height="5" fill="#8c8244"/><rect x="479.10" y="626.00" width="0.9" height="4.5" fill="#8c8244"/><rect x="482.55" y="623.50" width="0.9" height="7" fill="#8c8244"/><rect x="486.00" y="626.00" width="0.9" height="4.5" fill="#8c8244"/><rect x="489.45" y="625.50" width="0.9" height="5" fill="#8c8244"/><rect x="492.90" y="626.00" width="0.9" height="4.5" fill="#8c8244"/><rect x="496.35" y="623.50" width="0.9" height="7" fill="#8c8244"/><rect x="499.80" y="626.00" width="0.9" height="4.5" fill="#8c8244"/><rect x="503.25" y="625.50" width="0.9" height="5" fill="#8c8244"/><rect x="506.70" y="626.00" width="0.9" height="4.5" fill="#8c8244"/><rect x="510.15" y="623.50" width="0.9" height="7" fill="#8c8244"/><rect x="513.60" y="626.00" width="0.9" height="4.5" fill="#8c8244"/><rect x="517.05" y="625.50" width="0.9" height="5" fill="#8c8244"/><rect x="520.50" y="626.00" width="0.9" height="4.5" fill="#8c8244"/><rect x="523.95" y="623.50" width="0.9" height="7" fill="#8c8244"/><rect x="527.40" y="626.00" width="0.9" height="4.5" fill="#8c8244"/><rect x="530.85" y="625.50" width="0.9" height="5" fill="#8c8244"/><rect x="534.30" y="626.00" width="0.9" height="4.5" fill="#8c8244"/><rect x="537.75" y="623.50" width="0.9" height="7" fill="#8c8244"/><rect x="541.20" y="626.00" width="0.9" height="4.5" fill="#8c8244"/><rect x="544.65" y="625.50" width="0.9" height="5" fill="#8c8244"/><rect x="548.10" y="626.00" width="0.9" height="4.5" fill="#8c8244"/><rect x="551.55" y="623.50" width="0.9" height="7" fill="#8c8244"/><rect x="555.00" y="626.00" width="0.9" height="4.5" fill="#8c8244"/>
<g fill="#222644">
<circle cx="501" cy="396" r="15.5"/>
<circle cx="529" cy="395" r="15.5"/>
<circle cx="477" cy="411" r="16"/>
<circle cx="556" cy="411" r="15.5"/>
<circle cx="458" cy="437" r="17"/>
<circle cx="571" cy="440" r="16"/>
<circle cx="455" cy="463" r="16"/>
<circle cx="573" cy="463" r="15"/>
<circle cx="466" cy="487" r="15.5"/>
<circle cx="562" cy="487" r="15"/>
<circle cx="480" cy="494" r="9"/>
<circle cx="548" cy="494" r="9"/>
<ellipse cx="514" cy="440" rx="50" ry="52"/>
</g>
<ellipse cx="512" cy="455.8" rx="50.6" ry="51.4" fill="#c57466"/>
<clipPath id="hc"><circle cx="501" cy="396" r="15.5"/><circle cx="529" cy="395" r="15.5"/><circle cx="477" cy="411" r="16"/><circle cx="556" cy="411" r="15.5"/><circle cx="458" cy="437" r="17"/><circle cx="571" cy="440" r="16"/><circle cx="455" cy="463" r="16"/><circle cx="573" cy="463" r="15"/><circle cx="466" cy="487" r="15.5"/><circle cx="562" cy="487" r="15"/><circle cx="480" cy="494" r="9"/><circle cx="548" cy="494" r="9"/><ellipse cx="514" cy="440" rx="50" ry="52"/></clipPath>
<path d="M445,470 L462,449 C465,449.5 469,449.5 471,447.5 C473.5,445 474.5,439 475.5,435.5 C476.5,432.5 478,432 480,431.8 C484,431 487,429 488.5,425.5 C489,423 489.3,421.5 489.5,420.5 C491,422 495,424 500,424.2 C505,424.2 510,421.5 513,418 L515,415.5 C516.5,419 520,423.5 524,423.7 C528,423.8 531,422.5 533,421.5 C535,425 539,428 543,428.7 C547,429.5 551,433 554,438 C555.5,441 556,446 558,452 L586,470 L590,380 L440,380 Z" fill="#222644" clip-path="url(#hc)"/>
<ellipse cx="457.5" cy="453.5" rx="7.5" ry="10.5" fill="#c57466"/>
<ellipse cx="567.5" cy="453.5" rx="7.5" ry="10.5" fill="#c57466"/>
<path d="M454.5,449 C456,446 460,447 460.5,451 C459,452 457,453 457,456" fill="none" stroke="#a95c48" stroke-width="1.6" stroke-linecap="round"/>
<path d="M570.5,449 C569,446 565,447 564.5,451 C566,452 568,453 568,456" fill="none" stroke="#a95c48" stroke-width="1.6" stroke-linecap="round"/>
<ellipse cx="483.5" cy="457.8" rx="6.7" ry="5.6" transform="rotate(20 483.5 457.8)" fill="#c8474f"/>
<ellipse cx="541" cy="459" rx="6.7" ry="5.6" transform="rotate(-12 541 459)" fill="#c8474f"/>
<ellipse cx="494.8" cy="433.8" rx="3.9" ry="1.6" transform="rotate(-6 494.8 433.8)" fill="#222644"/>
<ellipse cx="532.2" cy="432.7" rx="3.9" ry="1.6" transform="rotate(6 532.2 432.7)" fill="#222644"/>
<ellipse cx="496.2" cy="446.6" rx="3.1" ry="4.7" fill="#222644"/>
<ellipse cx="531" cy="446.8" rx="3.1" ry="4.7" fill="#222644"/>
<path d="M514.6,448.4 L514.6,451.4 C514.6,452.6 513,452.8 511.4,452.8 C509.3,452.8 508.2,453.9 508.6,455.2 C509,456.6 510.6,457.6 511.3,460.4" fill="none" stroke="#4a2420" stroke-width="1.3" stroke-linecap="round" stroke-linejoin="round"/>
<path d="M502.5,467.6 C510,466.6 518,466 526.3,465.4 C526.5,472 522,480.2 515,480.2 C508,480.2 503,474 502.5,467.6 Z" fill="#222644"/>
<path d="M506,467 L522.5,466 C522,468.5 520,470.4 514,470.6 C509,470.7 506.5,469.3 506,467 Z" fill="#ffffff"/>
<path d="M513,478.5 C515,474 520,472 525.2,471.5 C524,476 520.5,479.8 515,480 Z" fill="#d8505a"/>
<path d="M510.6,481.2 Q516,481.8 521.9,480.6 Q520.5,485.8 516,485.9 Q512,485.9 510.6,481.2 Z" fill="#ad5c48"/>
<path d="M557.5,559.6 H601.6 V449.2 H654" fill="none" stroke="#34437c" stroke-width="1.3"/>
<circle cx="656.4" cy="449.2" r="2.4" fill="#fff" stroke="#34437c" stroke-width="1.2"/>
<path d="M557.5,626 H653.2" fill="none" stroke="#34437c" stroke-width="1.3"/>
<circle cx="655.6" cy="626" r="2.4" fill="#fff" stroke="#34437c" stroke-width="1.2"/>
</svg>
<div class="ttl" style="left:674.2px;top:441.50px">Chest</div>
<div class="ttl" style="left:674.8px;top:619.70px">Waist</div>
<div class="pl" style="top:463.40px">Measure the chest at the</div>
<div class="pl" style="top:479.20px">fullest part. Measure all</div>
<div class="pl" style="top:495.00px">around the body (total cir-</div>
<div class="pl" style="top:510.80px">cumference). The tape</div>
<div class="pl" style="top:526.60px">measure should be flat</div>
<div class="pl" style="top:542.40px">against the body and</div>
<div class="pl" style="top:558.20px">snug, but not tight.</div>
<div class="pl" style="top:641.90px">Measure the waist be-</div>
<div class="pl" style="top:657.66px">tween your belly button</div>
<div class="pl" style="top:673.42px">and your hip bone. The</div>
<div class="pl" style="top:689.18px">tape measure should be</div>
<div class="pl" style="top:704.94px">flat against the body and</div>
<div class="pl" style="top:720.70px">snug, but not tight.</div>
</body></html>
